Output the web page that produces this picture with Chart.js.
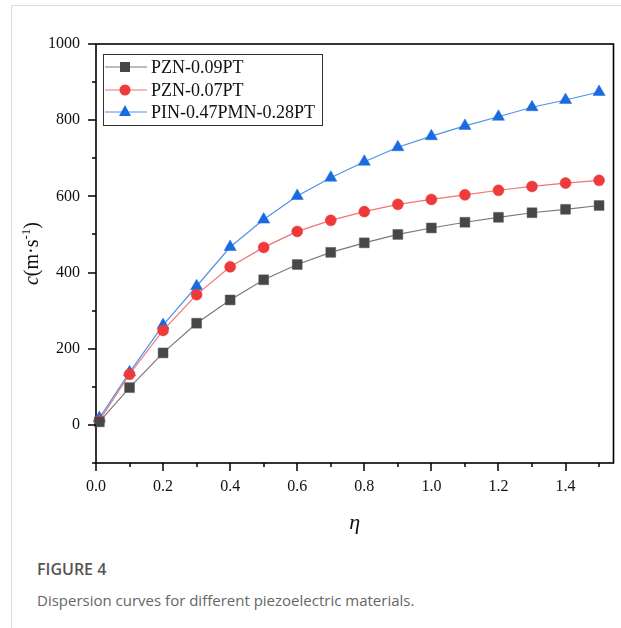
<!DOCTYPE html>
<html>
<head>
<meta charset="utf-8">
<script src="https://cdn.jsdelivr.net/npm/chart.js@4.4.1/dist/chart.umd.min.js"></script>
<style>
  html, body { margin: 0; padding: 0; background: #fff; }
  body { width: 621px; height: 628px; position: relative; overflow: hidden; }
  #frame { position: absolute; left: 11px; top: 5px; right: 0; bottom: 0;
           border-top: 1px solid #dcdcdc; border-left: 1px solid #dcdcdc; }
  #myChart { position: absolute; left: 0; top: 0; }
  .cap1 { position: absolute; left: 37px; top: 558px; font: 600 16px "Open Sans", sans-serif; color: #555; }
  .cap2 { position: absolute; left: 37px; top: 590px; font: 15px "Open Sans", sans-serif; color: #666; }
</style>
</head>
<body>
<div id="frame"></div>
<canvas id="myChart" width="621" height="540"></canvas>
<div class="cap1">FIGURE 4</div>
<div class="cap2">Dispersion curves for different piezoelectric materials.</div>
<script>
// Data

const etaValues = [0.01, 0.1, 0.2, 0.3, 0.4, 0.5, 0.6, 0.7, 0.8, 0.9, 1.0, 1.1, 1.2, 1.3, 1.4, 1.5];
const pzn009 = [8, 98, 189, 267, 328, 381, 421, 453, 478, 500, 517, 532, 545, 557, 566, 576];
const pzn007 = [11, 133, 248, 342, 415, 466, 508, 537, 560, 579, 592, 604, 616, 626, 635, 642];
const pinPmnPt = [18, 138, 262, 364, 467, 539, 601, 649, 691, 729, 758, 785, 809, 834, 853, 874];
const seriesNames = ["PZN-0.09PT", "PZN-0.07PT", "PIN-0.47PMN-0.28PT"];

const xTickValues = [0, 0.1, 0.2, 0.3, 0.4, 0.5, 0.6, 0.7, 0.8, 0.9, 1.0, 1.1, 1.2, 1.3, 1.4, 1.5];
const yTickValues = [-100, 0, 100, 200, 300, 400, 500, 600, 700, 800, 900, 1000];

const serif = '"Liberation Serif", "Times New Roman", serif';

const toPoints = ys => ys.map((y, i) => ({ x: etaValues[i], y: y }));

const isMajorX = v => Math.round(v * 10) % 2 === 0;
const isMajorY = v => v >= 0 && Math.round(v / 100) % 2 === 0;

// Frame, tick marks, legend and y title

const decor = {
  id: "decor",
  beforeDatasetsDraw(chart) {
    const { ctx, chartArea: a } = chart;
    ctx.save();
    ctx.strokeStyle = "#000";
    ctx.lineWidth = 1.6;
    ctx.strokeRect(a.left, a.top, a.right - a.left, a.bottom - a.top);
    ctx.restore();
  },
  afterDraw(chart) {
    const { ctx, chartArea: a } = chart;
    const xs = chart.scales.x;
    const ys = chart.scales.y;
    ctx.save();
    ctx.strokeStyle = "#000";
    ctx.lineWidth = 1.5;
    ctx.beginPath();
    xTickValues.forEach(v => {
      const px = Math.round(xs.getPixelForValue(v));
      ctx.moveTo(px, a.bottom);
      ctx.lineTo(px, a.bottom + (isMajorX(v) ? 8 : 4));
    });
    yTickValues.forEach(v => {
      const py = Math.round(ys.getPixelForValue(v));
      ctx.moveTo(a.left, py);
      ctx.lineTo(a.left - (isMajorY(v) ? 8 : 4), py);
    });
    ctx.stroke();

    // legend
    ctx.lineWidth = 1;
    ctx.strokeStyle = "#333";
    ctx.strokeRect(103.5, 54.5, 219, 71);
    const rows = [67, 90, 112];
    ctx.font = "18px " + serif;
    ctx.textBaseline = "middle";
    chart.data.datasets.forEach((ds, i) => {
      const y = rows[i];
      ctx.strokeStyle = ds.borderColor;
      ctx.lineWidth = 1.2;
      ctx.beginPath();
      ctx.moveTo(105, y);
      ctx.lineTo(147, y);
      ctx.stroke();
      ctx.fillStyle = ds.pointBackgroundColor;
      ctx.beginPath();
      if (ds.pointStyle === "rect") {
        ctx.rect(120, y - 5, 10, 10);
      } else if (ds.pointStyle === "circle") {
        ctx.arc(125, y, 5.5, 0, Math.PI * 2);
      } else {
        ctx.moveTo(125, y - 7);
        ctx.lineTo(131, y + 4);
        ctx.lineTo(119, y + 4);
        ctx.closePath();
      }
      ctx.fill();
      ctx.fillStyle = "#111";
      ctx.fillText(ds.label, 151, y + 1);
    });

    // y axis title
    ctx.translate(31, (a.top + a.bottom) / 2);
    ctx.rotate(-Math.PI / 2);
    const parts = [
      { t: "c", f: "italic 20px " + serif, dy: 0 },
      { t: "(m\u00b7s", f: "20px " + serif, dy: 0 },
      { t: "-1", f: "13px " + serif, dy: -8 },
      { t: ")", f: "20px " + serif, dy: 0 },
    ];
    let w = 0;
    parts.forEach(p => { ctx.font = p.f; w += ctx.measureText(p.t).width; });
    let x = -w / 2;
    ctx.textBaseline = "alphabetic";
    ctx.fillStyle = "#111";
    parts.forEach(p => {
      ctx.font = p.f;
      ctx.fillText(p.t, x, 7 + p.dy);
      x += ctx.measureText(p.t).width;
    });
    ctx.restore();
  },
};

// Chart declaration

const ctx = document.getElementById("myChart").getContext("2d");
const chart = new Chart(ctx, {
  type: "line",
  data: {
    datasets: [
      {
        label: seriesNames[0],
        data: toPoints(pzn009),
        borderColor: "#7a7a7a",
        borderWidth: 1.2,
        pointStyle: "rect",
        pointRadius: 7,
        pointBackgroundColor: "#474747",
        pointBorderColor: "#5a5a5a",
        pointBorderWidth: 0.5,
      },
      {
        label: seriesNames[1],
        data: toPoints(pzn007),
        borderColor: "#f27474",
        borderWidth: 1.2,
        pointStyle: "circle",
        pointRadius: 5.5,
        pointBackgroundColor: "#ee3a3a",
        pointBorderColor: "#ee3a3a",
        pointBorderWidth: 0.5,
      },
      {
        label: seriesNames[2],
        data: toPoints(pinPmnPt),
        borderColor: "#4f92ea",
        borderWidth: 1.2,
        pointStyle: "triangle",
        pointRadius: 7,
        pointBackgroundColor: "#1a6be0",
        pointBorderColor: "#1a6be0",
        pointBorderWidth: 0.5,
      },
    ],
  },
  options: {
    responsive: false,
    animation: false,
    devicePixelRatio: 1,
    clip: false,
    layout: { padding: { top: 44, right: 7, left: 0, bottom: 0 } },
    plugins: { legend: { display: false }, tooltip: { enabled: false } },
    scales: {
      x: {
        type: "linear",
        min: 0,
        max: 1.543,
        grid: { display: false, drawTicks: false },
        border: { display: false },
        afterFit: s => { s.height = 77; },
        afterBuildTicks: s => { s.ticks = xTickValues.map(v => ({ value: v })); },
        ticks: {
          padding: 14,
          autoSkip: false,
          maxRotation: 0,
          color: "#111",
          font: { family: serif, size: 16 },
          callback: v => (isMajorX(v) ? v.toFixed(1) : ""),
        },
        title: {
          display: true,
          text: "\u03b7",
          color: "#111",
          font: { family: serif, size: 22, style: "italic" },
          padding: { top: 12 },
        },
      },
      y: {
        type: "linear",
        min: -100,
        max: 1000,
        grid: { display: false, drawTicks: false },
        border: { display: false },
        afterFit: s => { s.width = 96; },
        afterBuildTicks: s => { s.ticks = yTickValues.map(v => ({ value: v })); },
        ticks: {
          padding: 16,
          autoSkip: false,
          color: "#111",
          font: { family: serif, size: 16 },
          callback: v => (isMajorY(v) ? String(v) : ""),
        },
      },
    },
  },
  plugins: [decor],
});
</script>
</body>
</html>
